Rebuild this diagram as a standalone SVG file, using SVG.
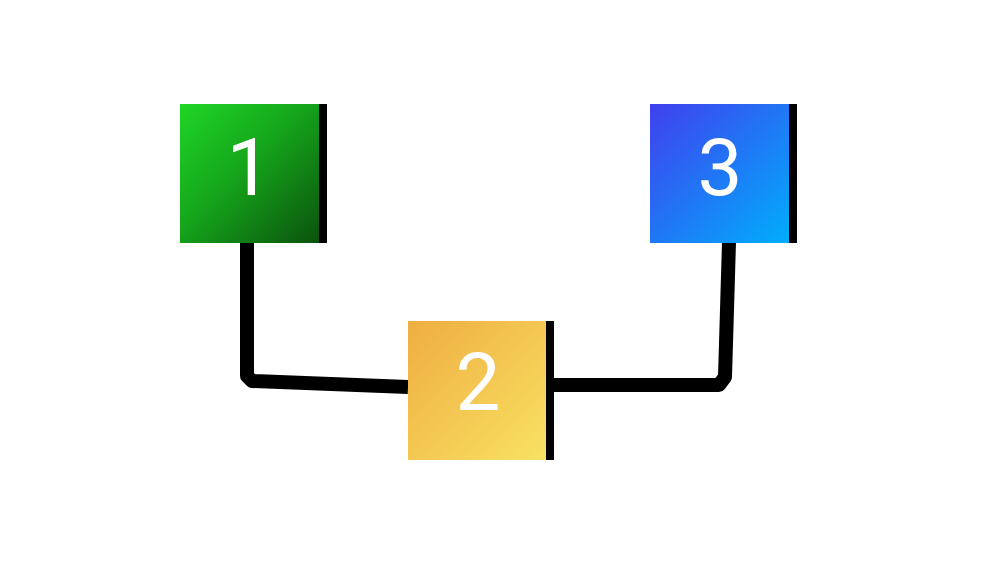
<svg xmlns="http://www.w3.org/2000/svg" width="1000" height="562" viewBox="0 0 1000 562">
<style>
.lbl{font-family:Roboto,"Liberation Sans",sans-serif;font-size:80px;fill:#ffffff;text-anchor:middle}
.bar{fill:#000000}
.conn{fill:none;stroke:#000000;stroke-width:14;stroke-linejoin:round}
</style>
<defs>
<linearGradient id="gGreen" x1="0" y1="0" x2="1" y2="1">
<stop offset="0" stop-color="#1fd626"/>
<stop offset="0.45" stop-color="#15a51b"/>
<stop offset="1" stop-color="#0b520d"/>
</linearGradient>
<linearGradient id="gBlue" x1="0" y1="0" x2="1" y2="1">
<stop offset="0" stop-color="#4040ee"/>
<stop offset="1" stop-color="#00aefc"/>
</linearGradient>
<linearGradient id="gYellow" x1="0" y1="0" x2="1" y2="1">
<stop offset="0" stop-color="#efad42"/>
<stop offset="1" stop-color="#f8e262"/>
</linearGradient>
</defs>
<rect width="1000" height="562" fill="#ffffff"/>
<g id="connectors">
<path class="conn" d="M247 242 L247 376 L252 381 L408 387"/>
<path class="conn" d="M729 242 L725 377 L719 385 L554 385"/>
</g>
<g id="node1">
<rect x="180" y="104" width="140" height="139" fill="url(#gGreen)"/>
<rect class="bar" x="319" y="104" width="8" height="139"/>
<text class="lbl" x="249" y="195">1</text>
</g>
<g id="node2">
<rect x="408" y="321" width="139" height="139" fill="url(#gYellow)"/>
<rect class="bar" x="546" y="321" width="8" height="139"/>
<text class="lbl" x="478" y="410">2</text>
</g>
<g id="node3">
<rect x="650" y="104" width="140" height="139" fill="url(#gBlue)"/>
<rect class="bar" x="789" y="104" width="8" height="139"/>
<text class="lbl" x="720" y="195">3</text>
</g>
</svg>
